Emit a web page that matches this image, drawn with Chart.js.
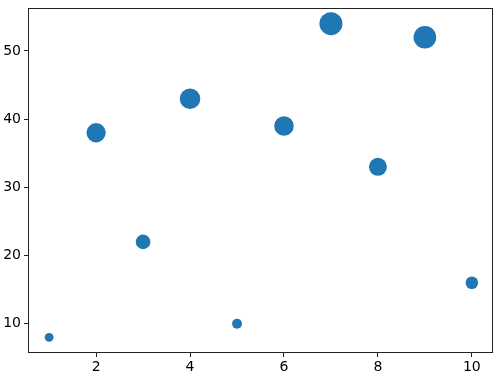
<!DOCTYPE html>
<html>
<head>
<meta charset="utf-8">
<script src="https://cdn.jsdelivr.net/npm/chart.js@4/dist/chart.umd.min.js"></script>
<style>
  html, body { margin: 0; padding: 0; background: #fff; }
  #wrap { width: 501px; height: 380px; }
</style>
</head>
<body>
<div id="wrap"><canvas id="scatterChart"></canvas></div>
<script>
const xValues = [1, 2, 3, 4, 5, 6, 7, 8, 9, 10];
const yValues = [8, 38, 22, 43, 10, 39, 54, 33, 52, 16];
// marker areas in pt^2, matplotlib style
const sizes = [32, 152, 88, 172, 40, 156, 216, 132, 208, 64];
const xTicks = [2, 4, 6, 8, 10];
const yTicks = [10, 20, 30, 40, 50];

const points = xValues.map((x, i) => ({ x, y: yValues[i] }));
const radii = sizes.map(s => Math.sqrt(s / Math.PI) * 100 / 72);

const frame = {
  id: "frame",
  afterDraw(chart) {
    const { ctx, chartArea: a } = chart;
    ctx.save();
    ctx.strokeStyle = "#222";
    ctx.lineWidth = 1;
    ctx.strokeRect(a.left + 0.5, a.top + 0.5, a.right - a.left - 1, a.bottom - a.top - 1);
    ctx.restore();
  }
};

const noPad = s => {
  s.paddingTop = 0;
  s.paddingBottom = 0;
  s.paddingLeft = 0;
  s.paddingRight = 0;
};

const tickFont = { family: "DejaVu Sans", size: 14 };

new Chart(document.getElementById("scatterChart").getContext("2d"), {
  type: "scatter",
  data: {
    datasets: [{
      data: points,
      backgroundColor: "#1f77b4",
      borderWidth: 0,
      pointRadius: radii,
      pointHoverRadius: radii
    }]
  },
  options: {
    responsive: true,
    maintainAspectRatio: false,
    animation: false,
    layout: { autoPadding: false, padding: { top: 8, right: 8, left: 0, bottom: 0 } },
    plugins: { legend: { display: false }, tooltip: { enabled: false } },
    scales: {
      x: {
        type: "linear",
        min: 0.55,
        max: 10.45,
        afterBuildTicks: s => { s.ticks = xTicks.map(v => ({ value: v })); },
        afterFit: s => { s.height = 27; noPad(s); },
        grid: { drawOnChartArea: false, drawTicks: true, tickLength: 4, color: "#222", tickWidth: 1 },
        border: { display: false },
        ticks: { color: "#000", font: tickFont, padding: 2, maxRotation: 0 }
      },
      y: {
        type: "linear",
        min: 5.7,
        max: 56.3,
        afterBuildTicks: s => { s.ticks = yTicks.map(v => ({ value: v })); },
        afterFit: s => { s.width = 28; noPad(s); },
        grid: { drawOnChartArea: false, drawTicks: true, tickLength: 4, color: "#222", tickWidth: 1 },
        border: { display: false },
        ticks: { color: "#000", font: tickFont, padding: 3 }
      }
    }
  },
  plugins: [frame]
});
</script>
</body>
</html>
